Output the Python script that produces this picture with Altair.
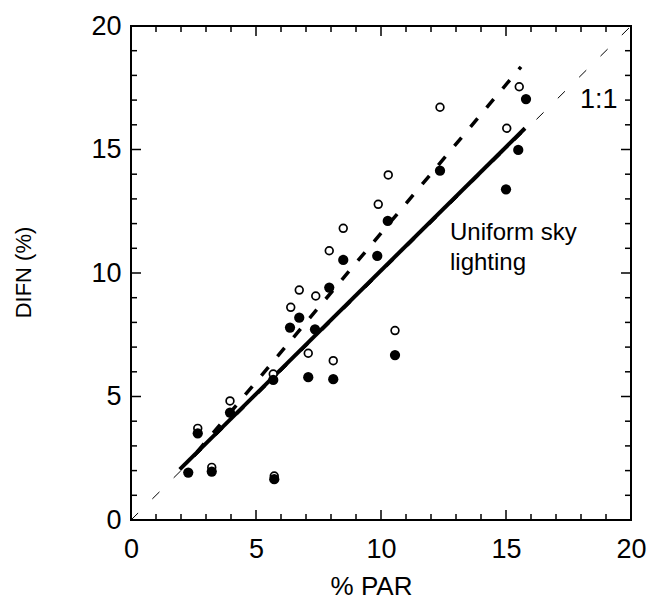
import altair as alt
import pandas as pd

# ---- data ----
filled_x = [2.29, 2.67, 3.23, 3.96, 5.69, 5.73, 6.36, 6.73, 7.36, 7.09,
            8.09, 7.93, 8.49, 9.85, 10.27, 10.56, 12.36, 15.00, 15.49, 15.80]
filled_y = [1.92, 3.51, 1.96, 4.35, 5.67, 1.65, 7.79, 8.19, 7.72, 5.78,
            5.70, 9.41, 10.53, 10.69, 12.11, 6.68, 14.14, 13.39, 14.98, 17.04]

open_x = [2.67, 3.23, 3.96, 5.69, 5.73, 6.39, 6.73, 7.39, 7.09, 8.09,
          7.93, 8.49, 9.89, 10.29, 10.56, 12.36, 15.03, 15.53]
open_y = [3.71, 2.13, 4.82, 5.91, 1.78, 8.61, 9.31, 9.07, 6.75, 6.45,
          10.90, 11.81, 12.78, 13.97, 7.67, 16.71, 15.86, 17.54]

solid_x = [1.95, 15.76]
solid_y = [2.05, 15.86]
dashed_x = [2.64, 15.60]
dashed_y = [2.75, 18.35]
identity_x = [0, 20]
identity_y = [0, 20]

tick_labels = [0, 5, 10, 15, 20]
minor_ticks = [v for v in range(1, 20) if v % 5 != 0]
major_ticks = [5, 10, 15]

notes_x = [12.76, 12.76]
notes_y = [11.34, 10.12]
notes_text = ["Uniform sky", "lighting"]
ratio_x = [17.96]
ratio_y = [16.68]
ratio_text = ["1:1"]

# ---- chart ----
W, H = 500, 494
FONT = "Liberation Sans"

xs = alt.Scale(domain=[0, 20], nice=False, zero=False)
ys = alt.Scale(domain=[0, 20], nice=False, zero=False)

xaxis = alt.Axis(values=tick_labels, ticks=False, domain=False, grid=False,
                 labelFontSize=27, labelFont=FONT, labelColor="black",
                 labelPadding=16, labelFlush=False, labelOverlap=False,
                 title="% PAR", titleFontSize=26, titleFont=FONT,
                 titleFontWeight="normal", titleColor="black",
                 titleX=240, titleY=66, titleBaseline="middle")
yaxis = alt.Axis(values=tick_labels, ticks=False, domain=False, grid=False,
                 labelFontSize=27, labelFont=FONT, labelColor="black",
                 labelPadding=10, labelFlush=False, labelOverlap=False,
                 title="DIFN (%)", titleFontSize=22, titleFont=FONT,
                 titleFontWeight="normal", titleColor="black",
                 titleX=-108, titleY=246, titleAngle=270,
                 titleAlign="center", titleBaseline="middle")


def X(field):
    return alt.X(field, type="quantitative", scale=xs, axis=xaxis)


def Y(field):
    return alt.Y(field, type="quantitative", scale=ys, axis=yaxis)


def line_layer(xv, yv, **kw):
    df = pd.DataFrame({"x": xv, "y": yv})
    return alt.Chart(df).mark_line(color="black", **kw).encode(x=X("x"), y=Y("y"))


identity = line_layer(identity_x, identity_y, strokeWidth=1, strokeDash=[10, 20])
solid = line_layer(solid_x, solid_y, strokeWidth=4)
dashed = line_layer(dashed_x, dashed_y, strokeWidth=3.5, strokeDash=[11, 14])

open_pts = alt.Chart(pd.DataFrame({"x": open_x, "y": open_y})).mark_circle(
    size=60, fill="white", fillOpacity=1, stroke="black", strokeWidth=1.7, opacity=1
).encode(x=X("x"), y=Y("y"))

filled_pts = alt.Chart(pd.DataFrame({"x": filled_x, "y": filled_y})).mark_circle(
    size=105, color="black", opacity=1
).encode(x=X("x"), y=Y("y"))


def tick_layers(values, length):
    df = pd.DataFrame({"v": values})
    base = alt.Chart(df).mark_rule(color="black", strokeWidth=1.5)
    return [
        base.encode(x=X("v"), y=alt.value(H), y2=alt.value(H - length)),
        base.encode(x=X("v"), y=alt.value(0), y2=alt.value(length)),
        base.encode(y=Y("v"), x=alt.value(0), x2=alt.value(length)),
        base.encode(y=Y("v"), x=alt.value(W), x2=alt.value(W - length)),
    ]


ticks = tick_layers(minor_ticks, 6) + tick_layers(major_ticks, 10)

notes = alt.Chart(pd.DataFrame({"x": notes_x, "y": notes_y, "t": notes_text})).mark_text(
    align="left", baseline="alphabetic", fontSize=24, font=FONT, color="black"
).encode(x=X("x"), y=Y("y"), text="t:N")

ratio = alt.Chart(pd.DataFrame({"x": ratio_x, "y": ratio_y, "t": ratio_text})).mark_text(
    align="left", baseline="alphabetic", fontSize=27, font=FONT, color="black"
).encode(x=X("x"), y=Y("y"), text="t:N")

chart = alt.layer(
    identity, solid, dashed, open_pts, filled_pts, *ticks, notes, ratio
).properties(
    width=W, height=H,
    autosize=alt.AutoSizeParams(type="none"),
    padding={"left": 123, "top": 18, "right": 18, "bottom": 88},
    background="white",
).configure_view(stroke="black", strokeWidth=2)

chart.save("out.html", embed_options={"renderer": "svg", "actions": False})
